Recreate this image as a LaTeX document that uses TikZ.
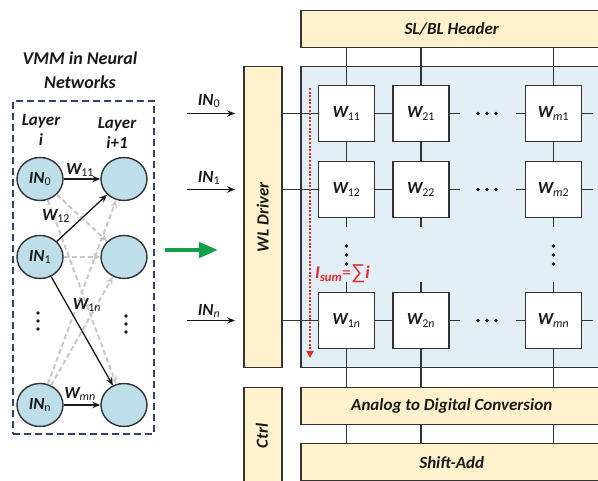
\documentclass[tikz,border=0pt]{standalone}
\usepackage{fontspec}
\setmainfont{Carlito}
\newfontfamily\symfont{Liberation Sans}
\usetikzlibrary{arrows.meta,shapes.geometric}

\definecolor{edge}{HTML}{333333}
\definecolor{barfill}{HTML}{FFF2CC}
\definecolor{panelfill}{HTML}{E2EFF6}
\definecolor{neufill}{HTML}{BEDEEA}
\definecolor{navy}{HTML}{2F4270}
\definecolor{ghost}{HTML}{C8C8C8}
\definecolor{sumred}{HTML}{E52A2A}
\definecolor{goodgreen}{HTML}{13A04A}

\newcommand\bi{\bfseries\itshape}
% weight symbol: bold italic W with a lighter subscript
\newcommand\Wl[1]{{\bi W}\textsubscript{\mdseries\upshape #1}}
\newcommand\INl[1]{{\bi IN}\textsubscript{\mdseries\upshape #1}}

\begin{document}
\begin{tikzpicture}[x=1pt,y=-1pt,
  txt/.style={font=\bi\fontsize{17}{20}\selectfont, text=black!90},
  cell/.style={draw=edge, fill=white, line width=1.5pt, minimum width=56pt,
    minimum height=56pt, inner sep=0pt, txt},
  bar/.style={draw=edge, fill=barfill, line width=1.5pt, inner sep=0pt,
    anchor=north west, txt},
  wire/.style={draw=edge, line width=1.5pt},
  neuron/.style={ellipse, draw=edge, fill=neufill, line width=1.4pt,
    minimum width=46pt, minimum height=43pt, inner sep=0pt, txt},
  solidarrow/.style={draw=black!90, line width=1.3pt,
    -{Stealth[length=8pt,width=6.5pt]}},
  ghostarrow/.style={draw=ghost, line width=2pt, dash pattern=on 5pt off 3pt,
    -{Stealth[length=8pt,width=7pt]}},
  dotmark/.style={circle, fill=black!90, inner sep=0pt, minimum size=3.8pt},
]
\useasboundingbox (0,0) rectangle (598,481);

% ---------------- crossbar side ----------------
\node[bar, minimum width=302pt, minimum height=37pt] (hdr) at (300,10) {SL/BL Header};
\node[draw=edge, fill=panelfill, line width=1.5pt, anchor=north west,
  minimum width=302pt, minimum height=301pt, inner sep=0pt] (panel) at (300,66) {};
\node[bar, minimum width=38pt, minimum height=301pt] (wl) at (243,66) {};
\node[txt, rotate=90] (wltext) at (wl.center) {WL Driver};
\node[bar, minimum width=38pt, minimum height=100pt] (ctrl) at (243,387) {};
\node[txt, rotate=90] (ctrltext) at (262,436) {Ctrl};
\node[bar, minimum width=302pt, minimum height=37pt] (adc) at (300,387) {Analog to Digital Conversion};
\node[bar, minimum width=302pt, minimum height=37pt] (sa) at (300,443) {Shift-Add};

% memory cells
\node[cell] (c11) at (346.5,113.5) {\Wl{11}};
\node[cell] (c21) at (421,113.5) {\Wl{21}};
\node[cell] (cm1) at (553.5,113.5) {\Wl{\textit{m}1}};
\node[cell] (c12) at (346.5,189.5) {\Wl{12}};
\node[cell] (c22) at (421,189.5) {\Wl{22}};
\node[cell] (cm2) at (553.5,189.5) {\Wl{\textit{m}2}};
\node[cell] (c1n) at (346.5,320.5) {\Wl{1\textit{n}}};
\node[cell] (c2n) at (421,320.5) {\Wl{2\textit{n}}};
\node[cell] (cmn) at (553.5,320.5) {\Wl{\textit{mn}}};

% bit lines
\foreach \c in {1,2,m}{
  \draw[wire] (c\c1.north) -- (c\c1.north |- hdr.south);
  \draw[wire] (c\c1.south) -- (c\c2.north);
  \draw[wire] (c\c2.south) -- ++(0,9);
  \draw[wire] (c\c n.north) -- ++(0,-10);
  \draw[wire] (c\c n.south) -- (c\c n.south |- adc.north);
  \draw[wire] (c\c n |- adc.south) -- (c\c n |- sa.north);
}
% word lines
\foreach \r in {1,2,n}{
  \draw[wire] (wl.east |- c1\r) -- (c1\r.west);
  \draw[wire] (c1\r.east) -- (c2\r.west);
  \draw[wire] (c2\r.east) -- ++(10,0);
  \draw[wire] (cm\r.west) -- ++(-9,0);
  \draw[wire] (cm\r.east) -- ++(11,0);
  \foreach \dx in {-9,0,9} \node[dotmark] at ([xshift=\dx pt]487,0 |- c1\r) {};
}
% vertical ellipses in the array
\foreach \cx in {346.5,553.5}
  \foreach \dy in {246,255,264} \node[dotmark] at (\cx,\dy) {};

% inputs to the word-line driver
\coordinate (in0s) at (187,113.5);
\coordinate (in1s) at (187,189.5);
\coordinate (inns) at (187,320.5);
\draw[solidarrow, shorten >=8pt] (in0s) -- (wl.west |- in0s);
\draw[solidarrow, shorten >=8pt] (in1s) -- (wl.west |- in1s);
\draw[solidarrow, shorten >=8pt] (inns) -- (wl.west |- inns);
\node[txt] (in0lab) at (209,101) {\INl{0}};
\node[txt] (in1lab) at (209,178) {\INl{1}};
\node[txt] (innlab) at (209,311) {\INl{\textit{n}}};

% accumulated column current
\coordinate (sumtop) at (310,88);
\coordinate (sumbot) at (310,358);
\draw[sumred, line width=1.4pt, dash pattern=on 2pt off 1.6pt,
  -{Triangle[length=7pt,width=7pt]}] (sumtop) -- (sumbot);
\node[txt, text=sumred, anchor=west, inner sep=0pt, font=\bi\fontsize{18}{20}\selectfont]
  (sumlab) at (315,274)
  {I\textsubscript{sum}{\upshape\mdseries =}{\symfont\mdseries\upshape\fontsize{20}{20}\selectfont ∑}i};

% mapping arrow
\coordinate (gs) at (165,250);
\coordinate (ge) at (218,250);
\draw[goodgreen, line width=4.5pt, -{Triangle[length=19pt,width=15pt]}] (gs) -- (ge);

% ---------------- neural network side ----------------
\node[txt, font=\bi\fontsize{18}{24}\selectfont, align=center] (title) at (80,70)
  {VMM in Neural\\Networks};
\node[draw=navy, dash pattern=on 7pt off 4pt, line width=1.6pt, anchor=north west,
  minimum width=141pt, minimum height=333pt, inner sep=0pt] (nnbox) at (12,100) {};
\node[txt, align=center] (lay0) at (41,130) {Layer\\i};
\node[txt, align=center] (lay1) at (117,133) {Layer\\i+1};

\node[neuron] (L0) at (40,179) {\INl{0}};
\node[neuron] (L1) at (40,257) {\INl{1}};
\node[neuron] (Ln) at (40,405) {\INl{n}};
\node[neuron] (R0) at (124,179) {};
\node[neuron] (R1) at (124,257) {};
\node[neuron] (Rn) at (124,405) {};

\draw[ghostarrow] (L0) -- (R1);
\draw[ghostarrow] (L0) -- (Rn);
\draw[ghostarrow] (L1) -- (R1);
\draw[ghostarrow] (Ln) -- (R0);
\draw[ghostarrow] (Ln) -- (R1);

\draw[solidarrow] (L0) -- (R0);
\draw[solidarrow] (L1) -- (R0);
\draw[solidarrow] (L1) -- (Rn);
\draw[solidarrow] (Ln) -- (Rn);

\node[txt] (w11) at (80,170) {\Wl{11}};
\node[txt] (w12) at (56,216) {\Wl{12}};
\node[txt] (w1n) at (87,305) {\Wl{1\textit{n}}};
\node[txt] (wmn) at (80,394) {\Wl{\textit{mn}}};

\foreach \dy in {313,321,329} \node[dotmark] at (38,\dy) {};
\foreach \dy in {316,324,332} \node[dotmark] at (126,\dy) {};
\end{tikzpicture}
\end{document}
